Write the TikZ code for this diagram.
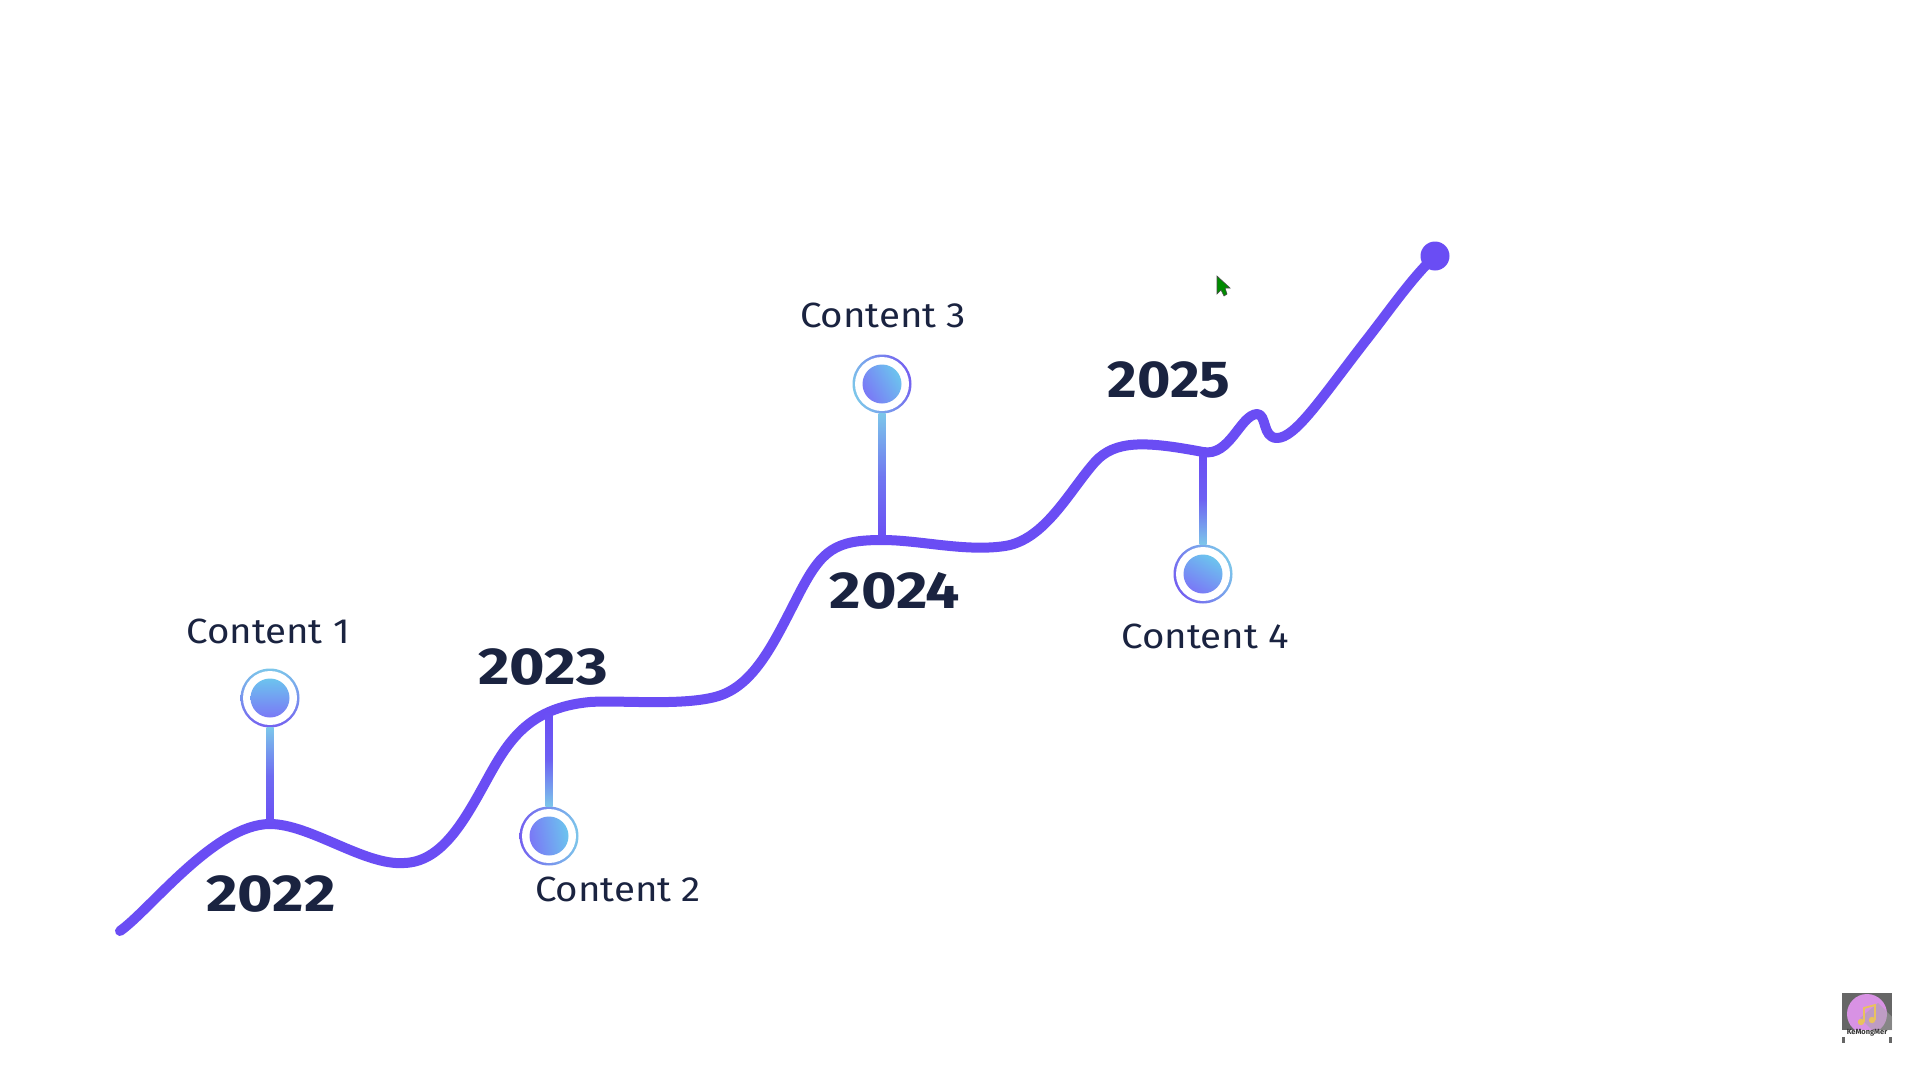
\documentclass[tikz,border=0pt]{standalone}
\usepackage{fontspec}
\setmainfont{Fira Sans}
\newfontfamily\labelfont[FakeStretch=1.1]{Fira Sans}
\newfontfamily\yearfont[FakeStretch=1.17]{Fira Sans}
\usetikzlibrary{calc}
\definecolor{linepurple}{HTML}{6A4DF4}
\definecolor{navy}{HTML}{1A2340}
\definecolor{pincyan}{HTML}{7CC6EA}
\definecolor{corecyan}{HTML}{6CC4EE}
\definecolor{coreviolet}{HTML}{7A78F6}
\definecolor{pinviolet}{HTML}{7460F0}
\definecolor{logopink}{HTML}{D892E4}
\definecolor{logonote}{HTML}{E9C25E}
\tikzset{
  mainline/.style={draw=linepurple,line width=10pt,line cap=round,line join=round},
  stemline/.style={draw=linepurple,line width=7pt},
  pinring/.style={circle,inner sep=0pt,minimum size=59pt,shade,top color=pincyan,bottom color=pinviolet,shading angle=#1},
  pinwhite/.style={circle,inner sep=0pt,minimum size=54pt,fill=white},
  pincore/.style={circle,inner sep=0pt,minimum size=39pt,shade,top color=corecyan,bottom color=coreviolet,shading angle=#1},
  contentlabel/.style={text=navy,font=\labelfont\fontsize{35}{35}\selectfont,anchor=base},
  yearlabel/.style={text=navy,font=\yearfont\bfseries\fontsize{52}{52}\selectfont,anchor=base},
}
\begin{document}
\begin{tikzpicture}[x=1pt,y=-1pt]
\useasboundingbox (0,0) rectangle (1920,1073);
\fill[white] (0,0) rectangle (1920,1073);
% junctions on the curve
\coordinate (start) at (120,931);
\coordinate (j1) at (270,824);
\coordinate (j2) at (549,711);
\coordinate (j3) at (882,540);
\coordinate (j4) at (1203,452);
% end dot
\node[circle,fill=linepurple,inner sep=0pt,minimum size=29pt] (enddot) at (1435,256) {};
% main curve
\draw[mainline] (start)
 .. controls (150,910) and (215,824) .. (j1)
 .. controls (310,824) and (365,866) .. (404,863)
 .. controls (440,862) and (462,825) .. (484,785)
 .. controls (506,745) and (525,708) .. (590,702)
 .. controls (620,700) and (680,706) .. (715,697)
 .. controls (755,687) and (775,640) .. (800,592)
 .. controls (822,550) and (835,540) .. (j3)
 .. controls (920,540) and (965,552) .. (1005,546)
 .. controls (1045,540) and (1070,490) .. (1095,462)
 .. controls (1115,440) and (1145,441) .. (j4)
 .. controls (1230,457) and (1240,415) .. (1257,414)
 .. controls (1267,414) and (1262,438) .. (1277,438)
 .. controls (1295,438) and (1320,400) .. (1364,343)
 .. controls (1390,310) and (1410,280) .. (enddot.center);
% pins
\node[pinring=0] (p1) at (270,698) {};
\node[pinwhite] (w1) at (p1) {};
\node[pincore=0] (c1) at (p1) {};
\node[pinring=270] (p2) at (549,836) {};
\node[pinwhite] (w2) at (p2) {};
\node[pincore=-80] (c2) at (p2) {};
\node[pinring=110] (p3) at (882,384) {};
\node[pinwhite] (w3) at (p3) {};
\node[pincore=-60] (c3) at (p3) {};
\node[pinring=-60] (p4) at (1203,574) {};
\node[pinwhite] (w4) at (p4) {};
\node[pincore=-30] (c4) at (p4) {};
% stems
\draw[stemline] (p1.south) -- (j1);
\shade[top color=pincyan,bottom color=linepurple,middle color=linepurple!75!pincyan] ($(p1.south)+(-3.5,0)$) rectangle ($(j1)+(3.5,0)$);
\draw[stemline] (p2.north) -- (j2);
\shade[bottom color=pincyan,top color=linepurple,middle color=linepurple!85!pincyan] ($(j2)+(-3.5,0)$) rectangle ($(p2.north)+(3.5,0)$);
\draw[stemline] (p3.south) -- (j3);
\shade[top color=pincyan,bottom color=linepurple,middle color=linepurple!65!pincyan] ($(p3.south)+(-3.5,0)$) rectangle ($(j3)+(3.5,0)$);
\draw[stemline] (p4.north) -- (j4);
\shade[bottom color=pincyan,top color=linepurple,middle color=linepurple!85!pincyan] ($(j4)+(-3.5,0)$) rectangle ($(p4.north)+(3.5,0)$);
% labels
\node[contentlabel] (t1) at (268,643) {Content 1};
\node[contentlabel] (t2) at (618,901) {Content 2};
\node[contentlabel] (t3) at (883,327) {Content 3};
\node[contentlabel] (t4) at (1205,648) {Content 4};
\node[yearlabel] (y1) at (271,911) {2022};
\node[yearlabel] (y2) at (543,684) {2023};
\node[yearlabel] (y3) at (895,608) {2024};
\node[yearlabel,xscale=0.94] (y4) at (1169,397) {2025};
% cursor
\fill[fill=green!55!black,draw=black!70,line width=0.6pt]
 (1217,276) -- (1217,294) -- (1221,290) -- (1224,296) -- (1227,294) -- (1225,288) -- (1230,288) -- cycle;
% watermark
\fill[black!60] (1842,993) rectangle (1892,1030);
\fill[black!60] (1842,1037) rectangle (1845,1043);
\fill[black!60] (1889,1037) rectangle (1892,1043);
\fill[logopink] (1867,1014) circle (20);
\fill[black!35,opacity=0.5] (1878,1003) -- (1892,1017) -- (1892,1030) -- (1872,1030) -- (1860,1018) -- cycle;
\fill[white] (1845,1030) rectangle (1889,1037);
\fill[logonote] (1861,1022) circle (3.2) (1872,1020) circle (3.2);
\draw[logonote,line width=1.8pt] (1864,1022) -- (1864,1008) -- (1875,1005) -- (1875,1020);
\node[text=black!80,font=\bfseries\fontsize{7.5}{7.5}\selectfont,anchor=center,inner sep=0pt] (wm) at (1867,1033) {KeMongMer};
\end{tikzpicture}
\end{document}
